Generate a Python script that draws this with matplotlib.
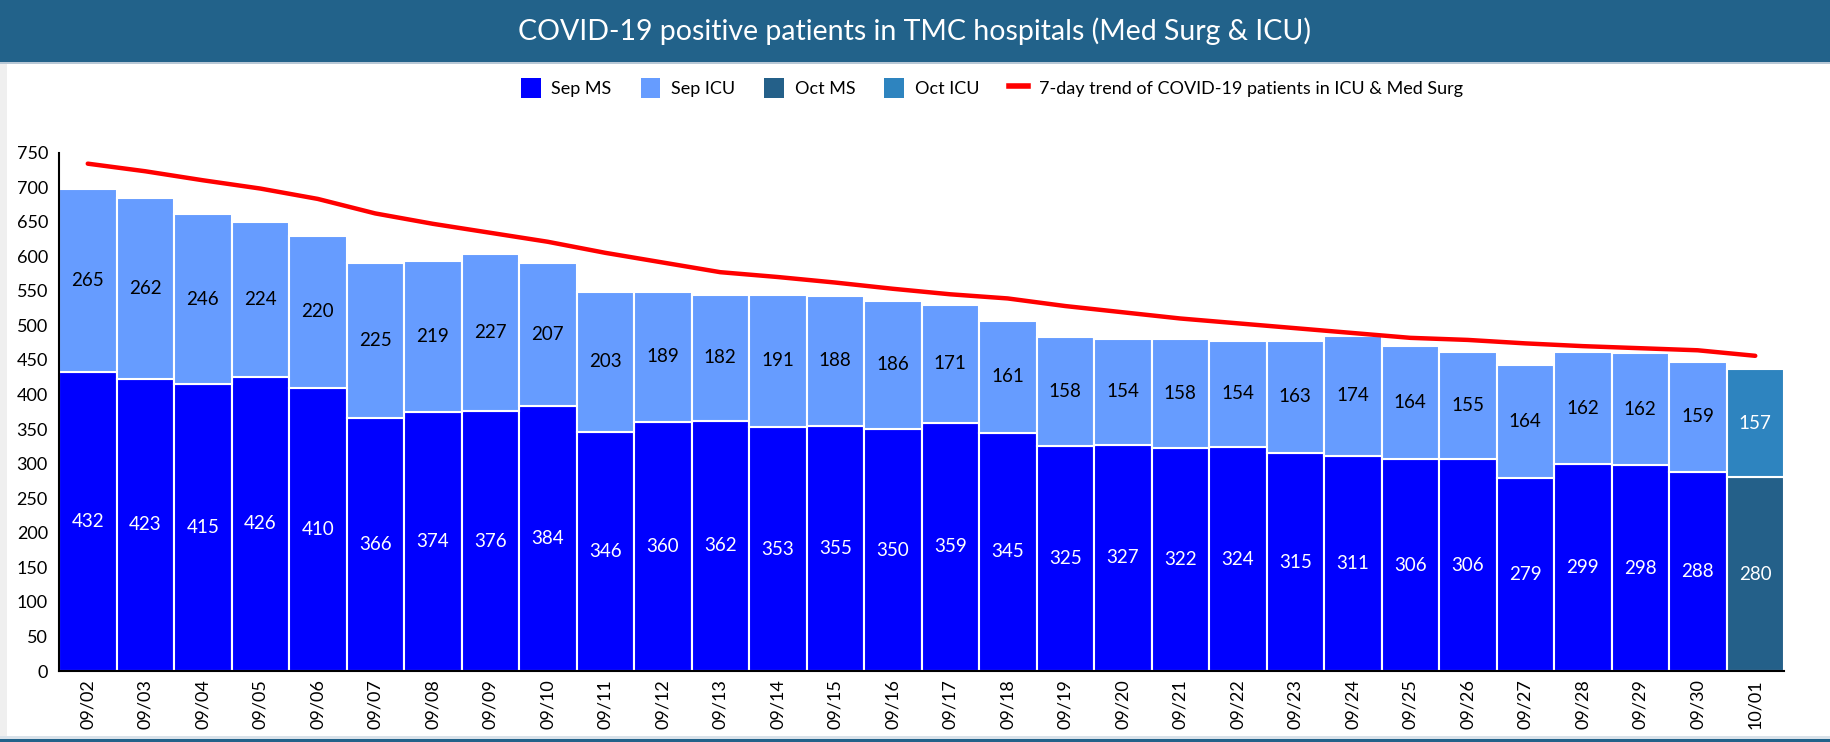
import matplotlib
matplotlib.use("Agg")
import matplotlib.pyplot as plt
from matplotlib.patches import Rectangle, Patch
from matplotlib.lines import Line2D
import numpy as np

plt.rcParams['font.family'] = ['Lato', 'DejaVu Sans']

dates = ["09/02", "09/03", "09/04", "09/05", "09/06", "09/07", "09/08", "09/09", "09/10",
         "09/11", "09/12", "09/13", "09/14", "09/15", "09/16", "09/17", "09/18", "09/19",
         "09/20", "09/21", "09/22", "09/23", "09/24", "09/25", "09/26", "09/27", "09/28",
         "09/29", "09/30", "10/01"]
med_surg = [432, 423, 415, 426, 410, 366, 374, 376, 384, 346, 360, 362, 353, 355, 350, 359,
            345, 325, 327, 322, 324, 315, 311, 306, 306, 279, 299, 298, 288, 280]
icu = [265, 262, 246, 224, 220, 225, 219, 227, 207, 203, 189, 182, 191, 188, 186, 171,
       161, 158, 154, 158, 154, 163, 174, 164, 155, 164, 162, 162, 159, 157]
trend = [734, 723, 710, 698, 683, 662, 647, 634, 621, 605, 591, 577, 570, 562, 553, 545,
         539, 528, 519, 510, 503, 496, 489, 482, 479, 474, 470, 467, 464, 456]
months = ["Sep"] * 29 + ["Oct"]

ms_colors = {"Sep": "#0000FF", "Oct": "#246089"}
icu_colors = {"Sep": "#669CFF", "Oct": "#2E84BF"}
banner = "#22628A"

W, H = 1831, 742
fig = plt.figure(figsize=(W / 100, H / 100), dpi=100)

# background decorations
fig.patches.append(Rectangle((0, 1 - 62 / H), 1, 62 / H, transform=fig.transFigure,
                             facecolor=banner, edgecolor="none", zorder=0))
fig.patches.append(Rectangle((0, 1 - 64 / H), 1, 2 / H, transform=fig.transFigure,
                             facecolor="#B8C8D6", edgecolor="none", zorder=0))
fig.patches.append(Rectangle((0, 0), 7 / W, 1 - 64 / H, transform=fig.transFigure,
                             facecolor="#EFEFEF", edgecolor="none", zorder=0))
fig.patches.append(Rectangle((0, 0), 1, 3 / H, transform=fig.transFigure,
                             facecolor=banner, edgecolor="none", zorder=0))
fig.patches.append(Rectangle((0, 3 / H), 1, 3 / H, transform=fig.transFigure,
                             facecolor="#D9E2EA", edgecolor="none", zorder=0))

fig.text(915 / W, 1 - 31 / H, "COVID-19 positive patients in TMC hospitals (Med Surg & ICU)",
         color="white", fontsize=20.5, ha="center", va="center")

ax = fig.add_axes([59 / W, 1 - 671 / H, (1784 - 59) / W, (671 - 152.6) / H])
x = np.arange(len(dates))
msc = [ms_colors[m] for m in months]
icc = [icu_colors[m] for m in months]
ax.bar(x, med_surg, width=1.0, color=msc, edgecolor="white", linewidth=1.5, zorder=2)
ax.bar(x, icu, bottom=med_surg, width=1.0, color=icc, edgecolor="white", linewidth=1.5, zorder=2)
ax.plot(x, trend, color="#FF0000", linewidth=3.2, solid_capstyle="round", zorder=3)

for i in range(len(dates)):
    ax.text(x[i], med_surg[i] / 2, str(med_surg[i]), ha="center", va="center",
            color="white", fontsize=13.5, zorder=4)
    ax.text(x[i], med_surg[i] + icu[i] / 2, str(icu[i]), ha="center", va="center",
            color="white" if months[i] == "Oct" else "black", fontsize=13.5, zorder=4)

ax.set_xlim(-0.5, len(dates) - 0.5)
ax.set_ylim(0, 750)
ax.set_yticks(np.arange(0, 751, 50))
ax.set_xticks(x)
ax.set_xticklabels(dates, rotation=90)
ax.tick_params(axis="both", length=0, labelsize=13)
ax.tick_params(axis="x", pad=6)
ax.tick_params(axis="y", pad=8)
for s in ["top", "right"]:
    ax.spines[s].set_visible(False)
ax.spines["left"].set_linewidth(1.5)
ax.spines["bottom"].set_linewidth(1.5)

handles = [Patch(facecolor=ms_colors["Sep"]), Patch(facecolor=icu_colors["Sep"]),
           Patch(facecolor=ms_colors["Oct"]), Patch(facecolor=icu_colors["Oct"]),
           Line2D([0], [0], color="#FF0000", linewidth=4)]
labels = ["Sep MS", "Sep ICU", "Oct MS", "Oct ICU", "7-day trend of COVID-19 patients in ICU & Med Surg"]
fig.legend(handles, labels, loc="center", bbox_to_anchor=(992 / W, 1 - 88 / H), ncol=5,
           frameon=False, fontsize=13, handlelength=1.1, handleheight=1.4,
           columnspacing=1.6, handletextpad=0.6)

fig.savefig("out.png", dpi=100)
